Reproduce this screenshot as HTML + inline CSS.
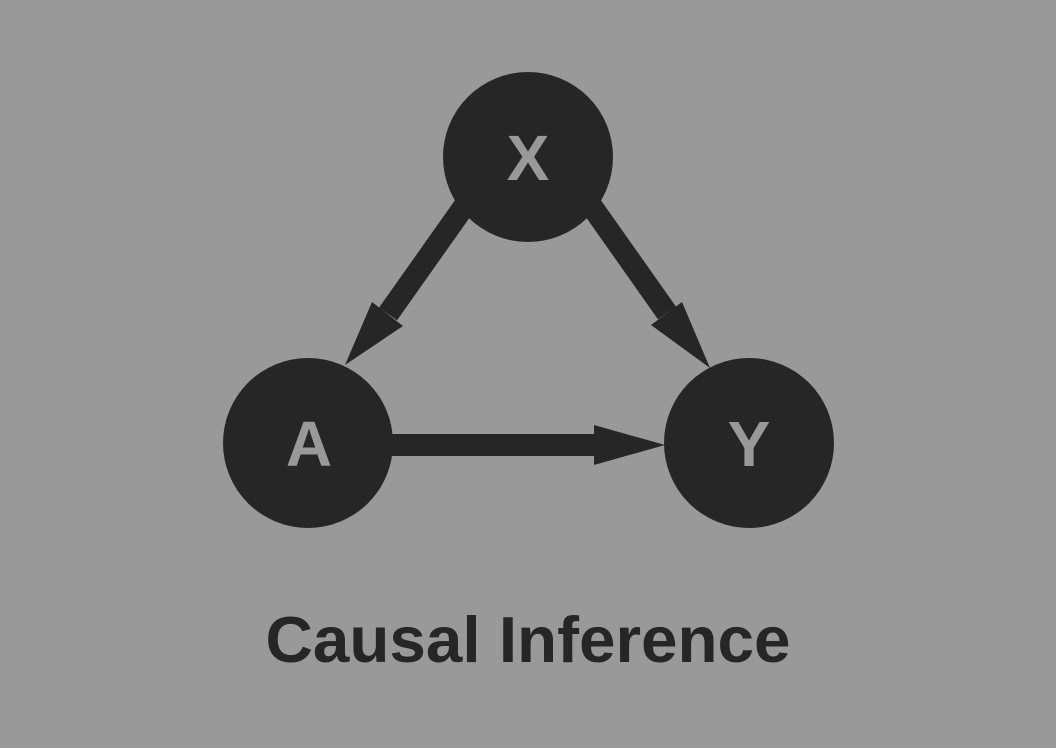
<!DOCTYPE html>
<html><head><style>
html,body{margin:0;padding:0;background:#999999;}
svg{display:block;}
</style></head><body>
<svg width="1056" height="748" viewBox="0 0 1056 748" xmlns="http://www.w3.org/2000/svg">
<rect width="1056" height="748" fill="#999999"/>
<g fill="#262626" stroke="none">
<line x1="499" y1="157" x2="388" y2="314" stroke="#262626" stroke-width="22"/>
<polygon points="345,365 372,302 403,326"/>
<line x1="557" y1="157" x2="667" y2="313" stroke="#262626" stroke-width="22"/>
<polygon points="710,368 682,302 651,325"/>
<rect x="380" y="434" width="216" height="22"/>
<polygon points="594,425 594,465 665,445"/>
<circle cx="528" cy="157" r="85"/>
<circle cx="308" cy="443" r="85"/>
<circle cx="749" cy="443" r="85"/>
</g>
<g font-family="Liberation Sans, Arial, sans-serif" font-weight="bold" text-anchor="middle">
<text x="528" y="180" font-size="64" fill="#999999">X</text>
<text x="309" y="466" font-size="64" fill="#999999">A</text>
<text x="749" y="466" font-size="64" fill="#999999">Y</text>
<text x="528" y="662" font-size="65" fill="#262626" textLength="525" lengthAdjust="spacingAndGlyphs">Causal Inference</text>
</g>
</svg>
</body></html>
